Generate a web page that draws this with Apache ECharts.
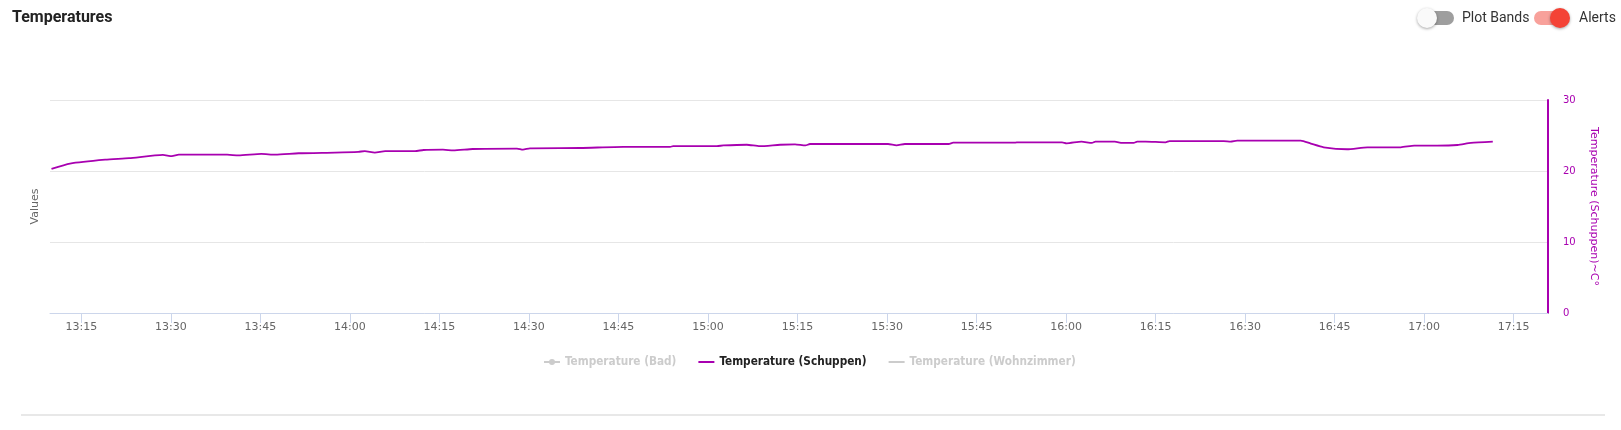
<!DOCTYPE html>
<html>
<head>
<meta charset="utf-8">
<script src="https://cdn.jsdelivr.net/npm/echarts@6/dist/echarts.min.js"></script>
<style>
html,body{margin:0;padding:0;background:#fff;}
#c{width:1621px;height:430px;}
</style>
</head>
<body>
<div id="c"></div>
<script>
// ---- data ----
const chartTitle = 'Temperatures';
const seriesNames = ['Temperature (Bad)', 'Temperature (Schuppen)', 'Temperature (Wohnzimmer)'];
const times = [
  '13:10:00','13:13:06','13:19:00','13:23:00','13:28:40','13:30:10','13:31:20','13:39:25','13:41:20','13:45:10',
  '13:47:30','13:51:25','13:57:30','14:01:25','14:02:30','14:04:10','14:05:55','14:10:55','14:12:20','14:15:35',
  '14:17:20','14:20:35','14:28:00','14:29:00','14:30:10','14:38:35','14:45:50','14:53:40','14:54:10','15:01:30',
  '15:02:35','15:06:30','15:08:40','15:12:05','15:14:35','15:16:20','15:17:05','15:30:10','15:31:35','15:33:00',
  '15:40:20','15:41:05','15:51:30','15:52:00','15:59:20','16:00:05','16:02:35','16:04:20','16:04:55','16:08:10',
  '16:09:25','16:11:20','16:11:55','16:13:20','16:16:40','16:17:20','16:26:25','16:27:35','16:28:40','16:39:20',
  '16:41:00','16:43:10','16:47:05','16:50:30','16:56:05','16:58:20','17:02:10','17:05:35','17:07:50','17:11:30'
];
const schuppen = [
  20.3, 21.05, 21.6, 21.8, 22.26, 22.1, 22.3, 22.3, 22.2, 22.4,
  22.3, 22.5, 22.6, 22.7, 22.8, 22.6, 22.8, 22.8, 22.96, 23.0,
  22.9, 23.1, 23.15, 23.0, 23.2, 23.24, 23.4, 23.4, 23.5, 23.5,
  23.6, 23.7, 23.5, 23.7, 23.75, 23.6, 23.8, 23.8, 23.6, 23.8,
  23.8, 24.0, 24.0, 24.04, 24.04, 23.9, 24.14, 23.95, 24.14, 24.14,
  23.95, 23.95, 24.14, 24.14, 24.04, 24.22, 24.22, 24.14, 24.28, 24.28,
  23.86, 23.34, 23.06, 23.34, 23.34, 23.57, 23.57, 23.66, 23.95, 24.14
];
const bad = [];
const wohnzimmer = [];
const xTickLabels = ['13:15','13:30','13:45','14:00','14:15','14:30','14:45','15:00','15:15','15:30','15:45','16:00','16:15','16:30','16:45','17:00','17:15'];
const xRange = ['13:09:45', '17:20:45'];
const yRange = [0, 30];
const yStep = 10;
const leftAxisName = 'Values';
const rightAxisName = 'Temperature (Schuppen)~C°';
const toggleLabels = ['Plot Bands', 'Alerts'];

// ---- helpers ----
// clock time -> minutes since midnight
function toMin(hms) {
  const p = hms.split(':').map(Number);
  return p[0] * 60 + p[1] + (p[2] || 0) / 60;
}
function pad(n) { return (n < 10 ? '0' : '') + n; }
function fmt(v) { const m = Math.round(v); return pad(Math.floor(m / 60)) + ':' + pad(m % 60); }

const purple = '#a800b0';
const tickVals = xTickLabels.map(toMin);
const iconLine = 'path://M0,7H16V9H0Z';
const iconLineDot = 'path://M0,7H16V9H0Z M11,8A3,3,0,1,1,5,8A3,3,0,1,1,11,8Z';
const chart = echarts.init(document.getElementById('c'), null, { renderer: 'canvas' });

chart.setOption({
  animation: false,
  backgroundColor: '#ffffff',
  title: {
    text: chartTitle,
    left: 12, top: 10, padding: 0,
    textStyle: { fontFamily: 'Roboto', fontWeight: 'bold', fontSize: 16, color: '#222222' }
  },
  legend: {
    data: [
      { name: seriesNames[0], icon: iconLineDot },
      { name: seriesNames[1], icon: iconLine },
      { name: seriesNames[2], icon: iconLine }
    ],
    left: 544, top: 356, padding: 0,
    itemGap: 22, itemWidth: 16, itemHeight: 16,
    inactiveColor: '#cccccc',
    selected: { [seriesNames[0]]: false, [seriesNames[1]]: true, [seriesNames[2]]: false },
    textStyle: { fontFamily: '"DejaVu Sans Condensed", "DejaVu Sans", sans-serif', fontWeight: 'bold', fontSize: 11.7, color: '#222222' }
  },
  grid: { left: 50, right: 73, top: 100, bottom: 117, containLabel: false },
  xAxis: {
    type: 'value',
    min: toMin(xRange[0]),
    max: toMin(xRange[1]),
    axisLine: { show: true, lineStyle: { color: '#ccd6eb', width: 1 } },
    axisTick: { show: true, length: 10, lineStyle: { color: '#ccd6eb' }, customValues: tickVals },
    axisLabel: {
      customValues: tickVals,
      color: '#666666', fontSize: 11, fontFamily: 'DejaVu Sans', margin: 9,
      formatter: fmt
    },
    splitLine: { show: false }
  },
  yAxis: [
    {
      type: 'value', position: 'left',
      min: yRange[0], max: yRange[1], interval: yStep,
      name: leftAxisName, nameLocation: 'middle', nameRotate: 90, nameGap: 9,
      nameTextStyle: { color: '#666666', fontSize: 11, fontFamily: 'DejaVu Sans' },
      axisLine: { show: false }, axisTick: { show: false }, axisLabel: { show: false },
      splitLine: { show: true, lineStyle: { color: '#e6e6e6', width: 1 } }
    },
    {
      type: 'value', position: 'right',
      min: yRange[0], max: yRange[1], interval: yStep,
      name: rightAxisName, nameLocation: 'middle', nameRotate: -90, nameGap: 40,
      nameTextStyle: { color: purple, fontSize: 11, fontFamily: 'DejaVu Sans' },
      axisLine: { show: true, lineStyle: { color: purple, width: 2 } },
      axisTick: { show: false },
      axisLabel: { color: purple, fontSize: 10, fontFamily: 'DejaVu Sans', margin: 15 },
      splitLine: { show: false }
    }
  ],
  series: [
    {
      name: seriesNames[0], type: 'line', yAxisIndex: 0,
      symbol: 'circle', symbolSize: 6, showSymbol: true,
      itemStyle: { color: '#7cb5ec' }, lineStyle: { color: '#7cb5ec', width: 2 },
      data: bad
    },
    {
      name: seriesNames[1], type: 'line', yAxisIndex: 1,
      symbol: 'none', smooth: 0.2,
      itemStyle: { color: purple }, lineStyle: { color: purple, width: 1.8 },
      data: times.map((t, i) => [toMin(t), schuppen[i]])
    },
    {
      name: seriesNames[2], type: 'line', yAxisIndex: 0,
      symbol: 'none',
      itemStyle: { color: '#90ed7d' }, lineStyle: { color: '#90ed7d', width: 2 },
      data: wohnzimmer
    }
  ],
  graphic: [
    { type: 'rect', shape: { x: 1420, y: 11, width: 34, height: 14, r: 7 }, style: { fill: '#9e9e9e' } },
    { type: 'circle', shape: { cx: 1427, cy: 18, r: 10 }, style: { fill: '#fafafa', shadowBlur: 3, shadowOffsetY: 1, shadowColor: 'rgba(0,0,0,0.35)' } },
    { type: 'text', x: 1462, y: 18, style: { text: toggleLabels[0], fill: '#333333', font: '14px Roboto', verticalAlign: 'middle' } },
    { type: 'rect', shape: { x: 1534, y: 11, width: 34, height: 14, r: 7 }, style: { fill: '#f8a19b' } },
    { type: 'circle', shape: { cx: 1560, cy: 18, r: 10 }, style: { fill: '#f44336', shadowBlur: 3, shadowOffsetY: 1, shadowColor: 'rgba(0,0,0,0.35)' } },
    { type: 'text', x: 1579, y: 18, style: { text: toggleLabels[1], fill: '#333333', font: '14px Roboto', verticalAlign: 'middle' } },
    { type: 'line', shape: { x1: 21, y1: 415, x2: 1605, y2: 415 }, style: { stroke: '#e0e0e0', lineWidth: 1.5 } }
  ]
});
</script>
</body>
</html>
